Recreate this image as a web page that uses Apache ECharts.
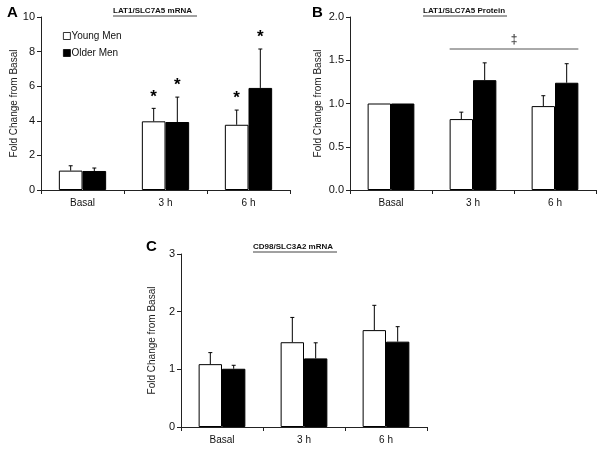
<!DOCTYPE html>
<html><head><meta charset="utf-8">
<script src="https://cdn.jsdelivr.net/npm/echarts@6/dist/echarts.min.js"></script>
<style>html,body{margin:0;padding:0;background:#fff}#c{width:601px;height:450px}</style>
</head><body><div id="c"></div>
<script>
var categories = ['Basal', '3 h', '6 h'];
// Panel A: LAT1/SLC7A5 mRNA
var aYoung = [1.12, 3.97, 3.77];
var aYoungSE = [0.28, 0.75, 0.85];
var aOld = [1.10, 3.93, 5.90];
var aOldSE = [0.17, 1.44, 2.25];
var aYoungStar = [false, true, true];
var aOldStar = [false, true, true];
// Panel B: LAT1/SLC7A5 Protein
var bYoung = [1.00, 0.82, 0.97];
var bYoungSE = [0.0, 0.08, 0.12];
var bOld = [1.00, 1.27, 1.24];
var bOldSE = [0.0, 0.20, 0.22];
var bBracketValue = 1.63;
var bBracketFrom = '3 h', bBracketTo = '6 h';
// Panel C: CD98/SLC3A2 mRNA
var cYoung = [1.09, 1.47, 1.68];
var cYoungSE = [0.20, 0.43, 0.43];
var cOld = [1.01, 1.19, 1.48];
var cOldSE = [0.06, 0.27, 0.26];

var FONT = 'Liberation Sans, Arial, sans-serif';
var BAR_FRAC = 0.57; // fraction of band occupied by both bars
var chart = echarts.init(document.getElementById('c'));

function errSeries(gi, vals, se, side, stars) {
  var data = vals.map(function (v, i) { return [i, v, se[i], stars ? (stars[i] ? 1 : 0) : 0]; });
  return {
    type: 'custom', xAxisIndex: gi, yAxisIndex: gi, z: 5, silent: true,
    data: data,
    renderItem: function (params, api) {
      var i = api.value(0), v = api.value(1), s = api.value(2), st = api.value(3);
      var band = api.size([1, 0])[0];
      var bw = band * BAR_FRAC / 2;
      var c0 = api.coord([i, v]);
      var x = c0[0] + side * bw / 2;
      var yTop = api.coord([i, v + s])[1];
      var ch = [];
      if (s > 0) {
        ch.push({ type: 'line', shape: { x1: x, y1: c0[1], x2: x, y2: yTop }, style: { stroke: '#000', lineWidth: 1 } });
        ch.push({ type: 'line', shape: { x1: x - 2, y1: yTop, x2: x + 2, y2: yTop }, style: { stroke: '#000', lineWidth: 1 } });
      }
      if (st) {
        ch.push({ type: 'text', style: { text: '*', x: x, y: yTop - 3, align: 'center', verticalAlign: 'bottom', font: 'bold 17px ' + FONT, fill: '#000' } });
      }
      return { type: 'group', children: ch };
    }
  };
}

function barPair(gi, young, old) {
  return [
    { name: 'Young Men', type: 'bar', xAxisIndex: gi, yAxisIndex: gi, data: young, barGap: '0%', barCategoryGap: '43%',
      itemStyle: { color: '#fff', borderColor: '#000', borderWidth: 1 }, silent: true },
    { name: 'Older Men', type: 'bar', xAxisIndex: gi, yAxisIndex: gi, data: old, barGap: '0%', barCategoryGap: '43%',
      itemStyle: { color: '#000', borderColor: '#000', borderWidth: 1 }, silent: true }
  ];
}

function xAx(gi) {
  return { gridIndex: gi, type: 'category', data: categories,
    axisLine: { lineStyle: { color: '#222', width: 1 } },
    axisTick: { show: true, length: 4, lineStyle: { color: '#222' } },
    axisLabel: { color: '#111', fontSize: 10, fontFamily: FONT, margin: 8 } };
}
function yAx(gi, max, interval, dec, gap) {
  return { gridIndex: gi, type: 'value', min: 0, max: max, interval: interval,
    name: 'Fold Change from Basal', nameLocation: 'middle', nameGap: gap,
    nameTextStyle: { color: '#222', fontSize: 10, fontFamily: FONT },
    splitLine: { show: false },
    axisLine: { show: true, lineStyle: { color: '#222', width: 1 } },
    axisTick: { show: true, length: 4, lineStyle: { color: '#222' } },
    axisLabel: { color: '#111', fontSize: 11, fontFamily: FONT, margin: 6,
      formatter: function (v) { return dec ? v.toFixed(dec) : String(v); } } };
}

var bracket = {
  type: 'custom', xAxisIndex: 1, yAxisIndex: 1, silent: true, z: 5,
  data: [[categories.indexOf(bBracketFrom), categories.indexOf(bBracketTo), bBracketValue]],
  renderItem: function (params, api) {
    var band = api.size([1, 0])[0];
    var bw = band * BAR_FRAC / 2;
    var p1 = api.coord([api.value(0), api.value(2)]);
    var p2 = api.coord([api.value(1), api.value(2)]);
    var x1 = p1[0] - bw, x2 = p2[0] + bw, y = p1[1];
    return { type: 'group', children: [
      { type: 'line', shape: { x1: x1, y1: y, x2: x2, y2: y }, style: { stroke: '#555', lineWidth: 1 } },
      { type: 'text', style: { text: '\u2021', x: (x1 + x2) / 2, y: y - 3, align: 'center', verticalAlign: 'bottom', font: '12px ' + FONT, fill: '#222' } }
    ] };
  }
};

function titleText(text, cx, cy) {
  var w = 84;
  return [
    { type: 'text', left: cx - w / 2, top: cy - 5, style: { text: text, font: 'bold 8px ' + FONT, fill: '#111' } },
    { type: 'line', shape: { x1: cx - w / 2, y1: cy + 4, x2: cx + w / 2, y2: cy + 4 }, style: { stroke: '#111', lineWidth: 0.8 } }
  ];
}

var graphics = []
  .concat(titleText('LAT1/SLC7A5 mRNA', 155, 12))
  .concat(titleText('LAT1/SLC7A5 Protein', 465, 12))
  .concat(titleText('CD98/SLC3A2 mRNA', 295, 248))
  .concat([
    { type: 'text', left: 7, top: 5, style: { text: 'A', font: 'bold 15px ' + FONT, fill: '#000' } },
    { type: 'text', left: 312, top: 5, style: { text: 'B', font: 'bold 15px ' + FONT, fill: '#000' } },
    { type: 'text', left: 146, top: 239, style: { text: 'C', font: 'bold 15px ' + FONT, fill: '#000' } }
  ]);

var option = {
  animation: false,
  backgroundColor: '#fff',
  graphic: graphics,
  legend: { data: ['Young Men', 'Older Men'], left: 58, top: 26, orient: 'vertical', itemWidth: 7, itemHeight: 7, itemGap: 7,
    icon: 'rect', itemStyle: { borderWidth: 0.8, borderColor: '#000' },
    textStyle: { fontSize: 10, fontFamily: FONT, color: '#111', padding: [0, 0, 0, -4] }, selectedMode: false },
  grid: [
    { left: 41, top: 17, width: 249, height: 173 },
    { left: 350, top: 17, width: 246, height: 173 },
    { left: 181, top: 254, width: 246, height: 173 }
  ],
  xAxis: [xAx(0), xAx(1), xAx(2)],
  yAxis: [yAx(0, 10, 2, 0, 22), yAx(1, 2, 0.5, 1, 27), yAx(2, 3, 1, 0, 24)],
  series: []
    .concat(barPair(0, aYoung, aOld))
    .concat(barPair(1, bYoung, bOld))
    .concat(barPair(2, cYoung, cOld))
    .concat([
      errSeries(0, aYoung, aYoungSE, -1, aYoungStar),
      errSeries(0, aOld, aOldSE, 1, aOldStar),
      errSeries(1, bYoung, bYoungSE, -1, null),
      errSeries(1, bOld, bOldSE, 1, null),
      errSeries(2, cYoung, cYoungSE, -1, null),
      errSeries(2, cOld, cOldSE, 1, null),
      bracket
    ])
};
chart.setOption(option);
</script></body></html>
